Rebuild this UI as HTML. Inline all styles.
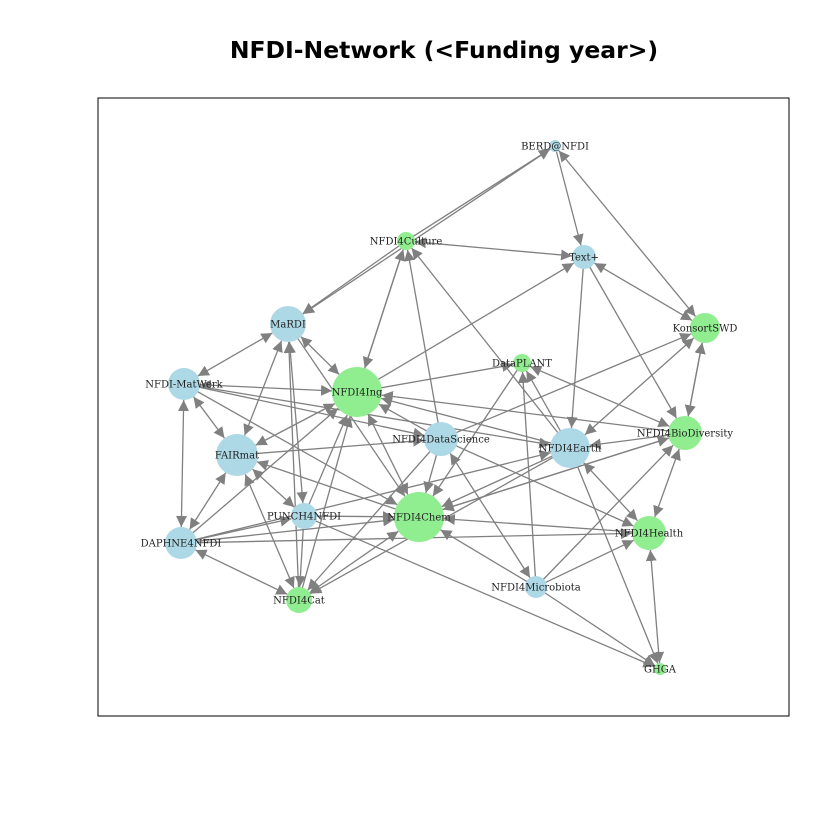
<!DOCTYPE html>
<html><head><meta charset="utf-8">
<style>
html,body{margin:0;padding:0;background:#fff;}
svg{display:block;}
</style></head>
<body>
<svg id="chart" width="840" height="840" viewBox="0 0 840 840">
<defs>
<marker id="ah" viewBox="0 0 10 10" refX="10" refY="5" markerWidth="11" markerHeight="11" markerUnits="userSpaceOnUse" orient="auto-start-reverse">
<path d="M0,0 L10,5 L0,10 z" fill="#808080"/>
</marker>
</defs>
<text x="444" y="58" text-anchor="middle" font-family="'DejaVu Sans','Liberation Sans',sans-serif" font-weight="bold" font-size="23.5" fill="#000">NFDI-Network (&lt;Funding year&gt;)</text>
<rect x="98" y="98" width="691" height="618" fill="none" stroke="#000" stroke-width="1"/>
<g id="edges"></g>
<g id="nodes"></g>
</svg>
<script>
const nodeNames = ["BERD@NFDI","NFDI4Culture","Text+","MaRDI","KonsortSWD","DataPLANT","NFDI-MatWerk","NFDI4Ing","NFDI4DataScience","NFDI4Earth","NFDI4BioDiversity","FAIRmat","PUNCH4NFDI","NFDI4Chem","DAPHNE4NFDI","NFDI4Health","NFDI4Microbiota","NFDI4Cat","GHGA"];
const nodeX = [555,406,584,288,705,522,184,357,441,570,685,237,304,419,181,649,536,299,660];
const nodeY = [146,241,257,324,328,363,384,392,439,448,433,455,516,517,543,533,587,600,669];
const nodeSize = [6,9,12,18,15,9,16,25,17,20,17,21,13,25,16,17,11,13,6];
const nodeFunded = [0,1,0,0,1,1,0,1,0,0,1,0,0,1,0,1,0,1,1];
const edgeFrom = ["NFDI4Culture","BERD@NFDI","BERD@NFDI","NFDI4Culture","NFDI4Ing","Text+","Text+","Text+","BERD@NFDI","NFDI4Culture","NFDI4Culture","NFDI4DataScience","NFDI4Earth","NFDI4Ing","NFDI4Ing","NFDI4DataScience","NFDI4Microbiota","NFDI4Earth","DataPLANT","DataPLANT","KonsortSWD","KonsortSWD","NFDI4BioDiversity","NFDI4BioDiversity","NFDI4Earth","NFDI4Earth","NFDI4BioDiversity","NFDI4Microbiota","NFDI4Microbiota","NFDI4Microbiota","NFDI4Health","NFDI4Health","DAPHNE4NFDI","NFDI4Microbiota","NFDI4DataScience","NFDI4DataScience","NFDI4Earth","NFDI4BioDiversity","DAPHNE4NFDI","PUNCH4NFDI","NFDI-MatWerk","NFDI-MatWerk","FAIRmat","NFDI4Ing","MaRDI","MaRDI","MaRDI","MaRDI","MaRDI","NFDI4Cat","NFDI-MatWerk","NFDI-MatWerk","NFDI-MatWerk","FAIRmat","FAIRmat","FAIRmat","FAIRmat","NFDI4Chem","DAPHNE4NFDI","DAPHNE4NFDI","DAPHNE4NFDI","DAPHNE4NFDI","PUNCH4NFDI","PUNCH4NFDI","PUNCH4NFDI","NFDI4Cat","NFDI4Cat","NFDI4Ing","NFDI4DataScience","NFDI4Earth","NFDI4BioDiversity","NFDI4DataScience","NFDI4DataScience","NFDI4Earth","NFDI4Chem"];
const edgeTo = ["BERD@NFDI","Text+","KonsortSWD","Text+","Text+","NFDI4Earth","KonsortSWD","NFDI4BioDiversity","MaRDI","MaRDI","NFDI4Ing","NFDI4Culture","NFDI4Culture","NFDI4Culture","DataPLANT","KonsortSWD","DataPLANT","DataPLANT","NFDI4BioDiversity","NFDI4Chem","NFDI4Earth","NFDI4BioDiversity","NFDI4Earth","KonsortSWD","NFDI4Health","GHGA","NFDI4Health","NFDI4BioDiversity","NFDI4Health","GHGA","GHGA","NFDI4Chem","NFDI4Health","NFDI4Chem","NFDI4Microbiota","NFDI4Health","NFDI4Chem","NFDI4Chem","NFDI4Earth","GHGA","NFDI4Earth","NFDI4DataScience","NFDI4DataScience","NFDI-MatWerk","NFDI-MatWerk","NFDI4Ing","FAIRmat","PUNCH4NFDI","NFDI4Chem","MaRDI","DAPHNE4NFDI","FAIRmat","NFDI4Chem","NFDI4Ing","PUNCH4NFDI","NFDI4Cat","DAPHNE4NFDI","FAIRmat","NFDI4Cat","NFDI4Ing","PUNCH4NFDI","NFDI4Chem","NFDI4Ing","NFDI4Cat","NFDI4Chem","NFDI4Ing","NFDI4Chem","NFDI4Chem","NFDI4Ing","NFDI4Ing","NFDI4Ing","NFDI4Chem","NFDI4Cat","NFDI4Cat","NFDI4BioDiversity"];
const edgeBoth = [0,0,1,1,0,0,1,0,0,0,1,0,0,0,0,0,0,0,1,0,1,1,0,1,1,0,1,0,0,0,1,0,0,0,1,0,0,0,0,0,0,0,0,1,1,1,1,1,0,0,1,1,0,1,1,1,1,0,1,0,0,0,0,0,0,0,1,1,0,0,0,0,0,0,0];

const NS = "http://www.w3.org/2000/svg";
const eg = document.getElementById("edges");
const ng = document.getElementById("nodes");
function idx(n){return nodeNames.indexOf(n);}
for (let k=0;k<edgeFrom.length;k++){
  const a=idx(edgeFrom[k]), b=idx(edgeTo[k]);
  const dx=nodeX[b]-nodeX[a], dy=nodeY[b]-nodeY[a], d=Math.hypot(dx,dy);
  const ux=dx/d, uy=dy/d;
  const ra=edgeBoth[k]?nodeSize[a]:nodeSize[a]*0.6, rb=nodeSize[b];
  const l=document.createElementNS(NS,"line");
  l.setAttribute("x1",nodeX[a]+ux*ra); l.setAttribute("y1",nodeY[a]+uy*ra);
  l.setAttribute("x2",nodeX[b]-ux*rb); l.setAttribute("y2",nodeY[b]-uy*rb);
  l.setAttribute("stroke","#808080"); l.setAttribute("stroke-width","1.3");
  l.setAttribute("marker-end","url(#ah)");
  if(edgeBoth[k]) l.setAttribute("marker-start","url(#ah)");
  
  
  eg.appendChild(l);
}
for (let i=0;i<nodeNames.length;i++){
  const c=document.createElementNS(NS,"circle");
  c.setAttribute("cx",nodeX[i]); c.setAttribute("cy",nodeY[i]); c.setAttribute("r",nodeSize[i]);
  c.setAttribute("fill",nodeFunded[i]?"#90ee90":"#add8e6");
  
  
  ng.appendChild(c);
}
for (let i=0;i<nodeNames.length;i++){
  const t=document.createElementNS(NS,"text");
  t.setAttribute("x",nodeX[i]); t.setAttribute("y",nodeY[i]+3.5);
  t.setAttribute("text-anchor","middle");
  t.setAttribute("font-family","'DejaVu Serif','Liberation Serif',serif");
  t.setAttribute("font-size","10"); t.setAttribute("fill","#222");
  t.textContent=nodeNames[i];
  
  
  ng.appendChild(t);
}
</script>
</body></html>
